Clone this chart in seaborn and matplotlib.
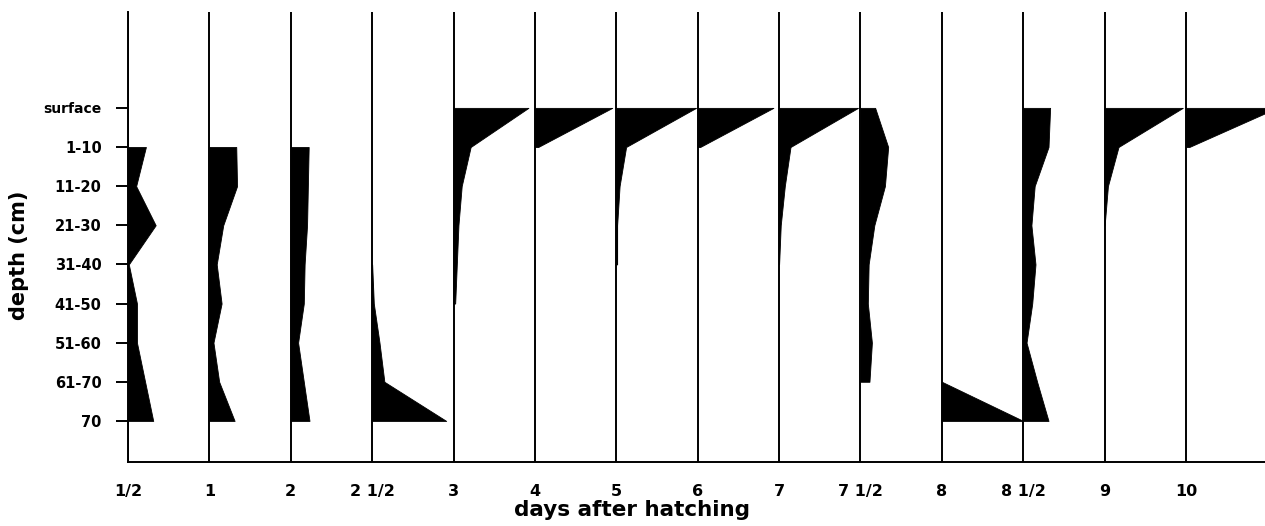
import numpy as np
import matplotlib
matplotlib.use("Agg")
import matplotlib.pyplot as plt
import seaborn as sns

# Depth classes (rows) and sampling times (columns)
depth_labels = ["surface", "1-10", "11-20", "21-30", "31-40",
                "41-50", "51-60", "61-70", "70"]
day_labels = ["1/2", "1", "2", "2 1/2", "3", "4", "5", "6", "7",
              "7 1/2", "8", "8 1/2", "9", "10"]

nan = np.nan
# Relative abundance of larvae per depth class (kite width, 100 = one column)
day_0_5 = [nan, 22, 10, 34, 1, 11, 11, 21, 31]
day_1 = [nan, 33, 34, 17, 9, 15, 5, 12, 31]
day_2 = [nan, 22, 21, 20, 17, 16, 9, 16, 23]
day_2_5 = [nan, nan, nan, nan, 0, 2, 9, 15, 91]
day_3 = [92, 21, 10, 6, 4, 2, nan, nan, nan]
day_4 = [95, 4, nan, nan, nan, nan, nan, nan, nan]
day_5 = [98, 12, 4, 1, 1, nan, nan, nan, nan]
day_6 = [93, 3, nan, nan, nan, nan, nan, nan, nan]
day_7 = [97, 14, 7, 2, 0, nan, nan, nan, nan]
day_7_5 = [18, 34, 30, 17, 10, 9, 14, 11, nan]
day_8 = [nan, nan, nan, nan, nan, nan, nan, 0, 100]
day_8_5 = [33, 31, 14, 10, 15, 11, 4, 17, 31]
day_9 = [96, 17, 4, 0, nan, nan, nan, nan, nan]
day_10 = [112, 4, nan, nan, nan, nan, nan, nan, nan]

series = [day_0_5, day_1, day_2, day_2_5, day_3, day_4, day_5, day_6,
          day_7, day_7_5, day_8, day_8_5, day_9, day_10]

sns.set_theme(style="ticks")
plt.rcParams["font.family"] = ["DejaVu Sans"]
plt.rcParams["font.weight"] = "bold"
plt.rcParams["text.color"] = "black"
plt.rcParams["axes.labelcolor"] = "black"
plt.rcParams["xtick.color"] = "black"
plt.rcParams["ytick.color"] = "black"

W, H = 1265, 526
fig = plt.figure(figsize=(W / 100, H / 100), dpi=100)
ax = fig.add_axes([128 / W, 1 - 462 / H, (W - 128) / W, (462 - 12) / H])

depth_pos = np.arange(len(depth_labels))
col_pos = np.arange(len(day_labels))

# Baseline of every kite
for x in col_pos:
    ax.axvline(x, color="black", lw=1.4, zorder=2)

# Kites: filled from the baseline to the right
for x, vals in zip(col_pos, series):
    v = np.asarray(vals, dtype=float)
    ok = ~np.isnan(v)
    ax.fill_betweenx(depth_pos[ok], x, x + v[ok] / 100.0,
                     color="black", lw=0.6, edgecolor="black", zorder=3)

ax.set_xlim(0, 13.97)
ax.set_ylim(9.05, -2.45)

ax.set_yticks(depth_pos)
ax.set_yticklabels(depth_labels, fontsize=10.5, fontweight="bold")
ax.get_yticklabels()[0].set_fontsize(10)
ax.tick_params(axis="y", length=9, width=1.4, pad=10, color="black",
               labelcolor="black")

ax.set_xticks(col_pos)
ax.set_xticklabels(day_labels, fontsize=11.5, fontweight="bold")
ax.tick_params(axis="x", length=0, pad=16, labelcolor="black")

ax.set_xlabel("days after hatching", fontsize=15.5, fontweight="bold",
              color="black")
ax.xaxis.set_label_coords(0.443, -0.085)
ax.set_ylabel("depth (cm)", fontsize=15, fontweight="bold", color="black")
ax.yaxis.set_label_coords(-0.087, 0.46)

sns.despine(ax=ax, top=True, right=True)
for side in ("left", "bottom"):
    ax.spines[side].set_linewidth(1.4)
    ax.spines[side].set_color("black")

fig.savefig("out.png", dpi=100, facecolor="white")
